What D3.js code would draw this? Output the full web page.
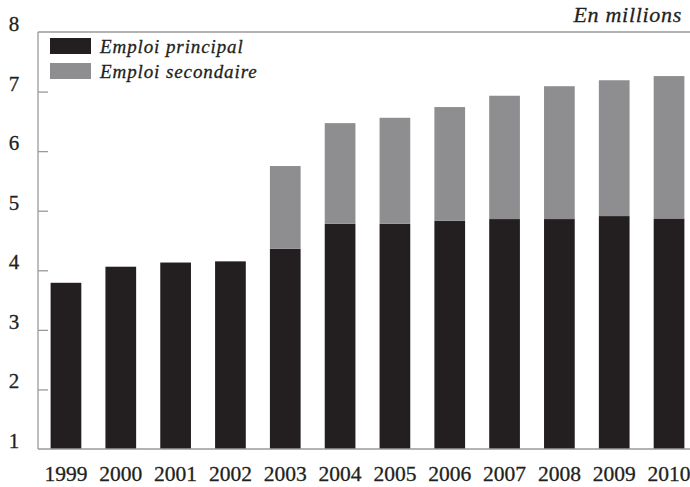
<!DOCTYPE html>
<html>
<head>
<meta charset="utf-8">
<script src="https://cdn.jsdelivr.net/npm/d3@7"></script>
<style>
  body { margin: 0; background: #fff; overflow: hidden; }
  svg text { font-family: "Liberation Serif", "Times New Roman", serif; fill: #231f20; stroke: #231f20; stroke-width: 0.3px; }
</style>
</head>
<body>
<div id="chart"></div>
<script>
// Data (millions)
const years = ["1999", "2000", "2001", "2002", "2003", "2004", "2005", "2006", "2007", "2008", "2009", "2010"];
const principal = [3.79, 4.06, 4.13, 4.15, 4.36, 4.78, 4.78, 4.83, 4.86, 4.86, 4.91, 4.87];
const secondaire = [0, 0, 0, 0, 1.39, 1.69, 1.78, 1.91, 2.07, 2.23, 2.28, 2.39];
const yTicks = [1, 2, 3, 4, 5, 6, 7, 8];
const seriesNames = ["Emploi principal", "Emploi secondaire"];

const colors = {
    principal: "#231f20",
    secondaire: "#8e8e90",
    axis: "#9a9a9a"
};

const width = 690, height = 487;
const plot = { left: 38, right: 690, top: 32, bottom: 449 };

const svg = d3.select("#chart")
    .append("svg")
    .attr("width", width)
    .attr("height", height);

const x = d3.scaleBand()
    .domain(years)
    .range([plot.left, 697])
    .paddingInner(0.44)
    .paddingOuter(0.23);

const y = d3.scaleLinear()
    .domain([1, 8])
    .range([plot.bottom, plot.top]);

// Stack the two series (axis starts at 1)
const rows = years.map((yr, i) => ({ year: yr, principal: principal[i], secondaire: secondaire[i] }));
const stack = d3.stack().keys(["principal", "secondaire"]).value((d, k) => k === "principal" ? d[k] - 1 : d[k]);
const layers = stack(rows);

svg.selectAll(".layer")
    .data(layers)
    .enter()
    .append("g")
    .attr("fill", d => colors[d.key])
    .selectAll("rect")
    .data(d => d.filter(p => p[1] > p[0]))
    .enter()
    .append("rect")
    .attr("x", d => x(d.data.year))
    .attr("width", x.bandwidth())
    .attr("y", d => y(d[1] + 1))
    .attr("height", d => y(d[0] + 1) - y(d[1] + 1));

// Frame lines: left, top, bottom
const frame = svg.append("g").attr("stroke", colors.axis).attr("stroke-width", 1.3).attr("fill", "none");
frame.append("line").attr("x1", plot.left).attr("x2", plot.left).attr("y1", y(8)).attr("y2", y(1));
frame.append("line").attr("x1", plot.left).attr("x2", plot.right).attr("y1", y(8)).attr("y2", y(8));
frame.append("line").attr("x1", plot.left).attr("x2", plot.right).attr("y1", y(1)).attr("y2", y(1));

// Left axis: inward ticks, labels sitting on the tick
const yAxis = d3.axisRight(y).tickValues(yTicks.slice(1, -1)).tickSize(10).tickFormat("");
svg.append("g")
    .attr("transform", `translate(${plot.left},0)`)
    .call(yAxis)
    .call(g => g.select(".domain").remove())
    .call(g => g.selectAll(".tick line").attr("stroke", colors.axis).attr("stroke-width", 1.3));

svg.selectAll(".ylabel")
    .data(yTicks)
    .enter()
    .append("text")
    .attr("class", "ylabel")
    .attr("x", 14)
    .attr("y", d => y(d) - 1)
    .attr("text-anchor", "middle")
    .attr("font-size", 21)
    .text(d => d);

// Year labels
const xAxis = d3.axisBottom(x).tickSize(0).tickPadding(0);
svg.append("g")
    .attr("transform", `translate(0,${plot.bottom})`)
    .call(xAxis)
    .call(g => g.select(".domain").remove())
    .call(g => g.selectAll(".tick text")
        .attr("dy", null)
        .attr("y", 32)
        .attr("font-size", 21.5)
        .attr("font-family", "Liberation Serif, serif")
        .attr("fill", "#231f20"));

// Unit note
svg.append("text")
    .attr("x", 682)
    .attr("y", 22)
    .attr("text-anchor", "end")
    .attr("font-size", 22)
    .attr("letter-spacing", 0.7)
    .attr("font-style", "italic")
    .text("En millions");

// Legend
const legend = svg.selectAll(".legend")
    .data(seriesNames)
    .enter()
    .append("g")
    .attr("transform", (d, i) => `translate(50,${38 + i * 25})`);

legend.append("rect")
    .attr("width", 41)
    .attr("height", 16)
    .attr("fill", (d, i) => i === 0 ? colors.principal : colors.secondaire);

legend.append("text")
    .attr("x", 50)
    .attr("y", 15)
    .attr("font-size", 19)
    .attr("letter-spacing", 0.9)
    .attr("font-style", "italic")
    .text(d => d);
</script>
</body>
</html>
